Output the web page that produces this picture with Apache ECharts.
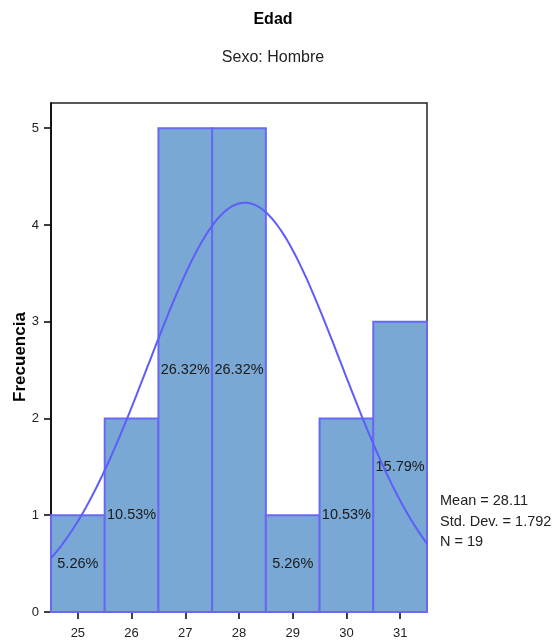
<!DOCTYPE html>
<html><head><meta charset="utf-8">
<script src="https://cdn.jsdelivr.net/npm/echarts@6/dist/echarts.min.js"></script>
<style>html,body{margin:0;padding:0;background:#fff}#c{width:558px;height:643px}</style>
</head><body><div id="c"></div>
<script>
var categories = [25, 26, 27, 28, 29, 30, 31];
var frequencies = [1, 2, 5, 5, 1, 2, 3];
var percentLabels = ['5.26%', '10.53%', '26.32%', '26.32%', '5.26%', '10.53%', '15.79%'];
var yTicks = [0, 1, 2, 3, 4, 5];
var statMean = 28.11;
var statSD = 1.792;
var statN = 19;
var binWidth = 1;

// fitted normal curve from the displayed Mean / Std. Dev. / N
var curve = [];
for (var i = 0; i <= 140; i++) {
  var x = 24.5 + i * 0.05;
  var z = (x - statMean) / statSD;
  curve.push([x, statN * binWidth / (statSD * Math.sqrt(2 * Math.PI)) * Math.exp(-0.5 * z * z)]);
}
var barData = categories.map(function (c, i) { return [c, frequencies[i], percentLabels[i]]; });

var chart = echarts.init(document.getElementById('c'));
chart.setOption({
  animation: false,
  graphic: [
    {type: 'text', x: 273, y: 20, style: {text: 'Edad', align: 'center', verticalAlign: 'middle', font: 'bold 16px Liberation Sans, Arial', fill: '#000'}},
    {type: 'text', x: 273, y: 58, style: {text: 'Sexo: Hombre', align: 'center', verticalAlign: 'middle', font: '16px Liberation Sans, Arial', fill: '#222'}},
    {type: 'text', x: 20, y: 357, rotation: Math.PI / 2, style: {text: 'Frecuencia', align: 'center', verticalAlign: 'middle', font: 'bold 17px Liberation Sans, Arial', fill: '#000'}},
    {type: 'text', left: 440, top: 491,
      style: {text: 'Mean = ' + statMean + '\nStd. Dev. = ' + statSD + '\nN = ' + statN,
        font: '14.5px Liberation Sans, Arial', fill: '#222', lineHeight: 20.5}}
  ],
  grid: {left: 51, top: 103, right: 131, bottom: 31, show: true, borderColor: '#222', borderWidth: 1.5, backgroundColor: 'transparent'},
  xAxis: {
    type: 'value', min: 24.5, max: 31.5,
    axisLine: {show: true, lineStyle: {color: '#000', width: 1}},
    axisTick: {show: true, customValues: categories, length: 7, lineStyle: {color: '#000', width: 1.5}},
    axisLabel: {customValues: categories, color: '#222', fontFamily: 'Liberation Sans, Arial', fontSize: 13, margin: 15},
    splitLine: {show: false}
  },
  yAxis: {
    type: 'value', min: 0, max: 5.26, interval: 1,
    axisLine: {show: true, lineStyle: {color: '#000', width: 1.5}},
    axisTick: {show: true, customValues: yTicks, length: 7, lineStyle: {color: '#000', width: 1.5}},
    axisLabel: {customValues: yTicks, color: '#222', fontFamily: 'Liberation Sans, Arial', fontSize: 13, margin: 12},
    splitLine: {show: false}
  },
  series: [{
    type: 'custom',
    data: barData,
    z: 2,
    renderItem: function (params, api) {
      var c = api.value(0), v = api.value(1);
      var p0 = api.coord([c - 0.5, v]);
      var p1 = api.coord([c + 0.5, 0]);
      var pm = api.coord([c, v / 2]);
      return {
        type: 'group',
        children: [
          {type: 'rect', shape: {x: p0[0], y: p0[1], width: p1[0] - p0[0], height: p1[1] - p0[1]},
            style: {fill: '#79a8d5', stroke: '#6868f4', lineWidth: 2}},
          {type: 'text', z2: 10, style: {x: pm[0], y: pm[1], text: barData[params.dataIndex][2], align: 'center', verticalAlign: 'middle',
            font: '14.5px Liberation Sans, Arial', fill: '#1a1a1a'}}
        ]
      };
    }
  }, {
    type: 'line', data: curve, showSymbol: false, smooth: false, z: 3,
    lineStyle: {color: '#5d5dfa', width: 2}
  }]
});
</script>
</body></html>
